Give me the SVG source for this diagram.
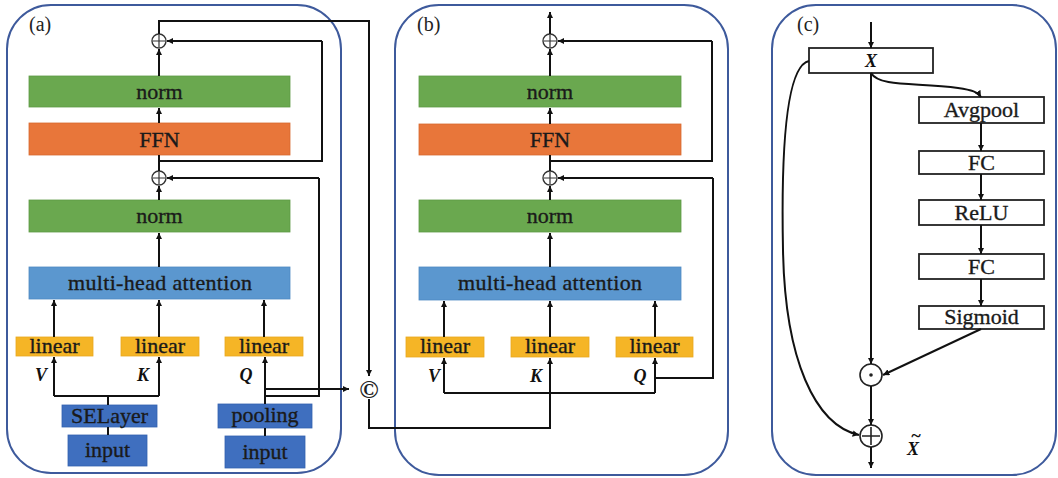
<svg xmlns="http://www.w3.org/2000/svg" width="1058" height="478" viewBox="0 0 1058 478">
<defs>
<marker id="ah" viewBox="0 0 10 10" refX="10" refY="5" markerWidth="3.2" markerHeight="3.2" orient="auto" markerUnits="strokeWidth"><path d="M0,0 L10,5 L0,10 z" fill="#111"/></marker>
<style>
.panel{fill:none;stroke:#3e5a9c;stroke-width:2}
.t{font-size:22px;fill:#1a1a1a;stroke:#1a1a1a;stroke-width:0.35;text-anchor:middle}
.lbl{font-size:20px;fill:#222}
.vk{font-size:18px;font-weight:bold;font-style:italic;fill:#111;text-anchor:middle}
.norm{fill:#6aa84f;stroke:#5e9a45;stroke-width:0.8}
.ffn{fill:#e8763a;stroke:#d86a30;stroke-width:0.8}
.mha{fill:#5b97cf;stroke:#4f8ac2;stroke-width:0.8}
.lin{fill:#f5b526;stroke:#e8a91e;stroke-width:0.8}
.dk{fill:#3f6fbf;stroke:#3462b0;stroke-width:0.8}
.wb{fill:#fff;stroke:#222;stroke-width:1.8}
.c{fill:none;stroke:#111;stroke-width:2}
.a{fill:none;stroke:#111;stroke-width:2;marker-end:url(#ah)}
.op{fill:#fff;stroke:#333;stroke-width:1.4}
</style>
</defs>
<g font-family="'Liberation Serif', 'DejaVu Serif', serif">
<g id="panels">
<rect class="panel" x="7" y="5" width="334" height="468" rx="44"/>
<rect class="panel" x="395" y="5" width="333" height="470" rx="44"/>
<rect class="panel" x="772" y="5" width="284" height="470" rx="44"/>
<text class="lbl" x="29" y="31">(a)</text>
<text class="lbl" x="417" y="31">(b)</text>
<text class="lbl" x="797" y="31">(c)</text>
</g>

<g id="a-plus-top"><circle class="op" cx="159" cy="41" r="7"/><path d="M153,41H165M159,35V47" stroke="#333" stroke-width="1.2"/></g>
<g id="a-norm-top"><rect class="norm" x="29" y="76" width="261" height="31"/><text class="t" x="159.5" y="99">norm</text></g>
<g id="a-ffn"><rect class="ffn" x="29" y="123" width="261" height="32"/><text class="t" x="159.5" y="147">FFN</text></g>
<g id="a-plus-low"><circle class="op" cx="159" cy="178" r="7"/><path d="M153,178H165M159,172V184" stroke="#333" stroke-width="1.2"/></g>
<g id="a-norm-low"><rect class="norm" x="29" y="200" width="261" height="32"/><text class="t" x="159.5" y="223">norm</text></g>
<g id="a-mha"><rect class="mha" x="29" y="267" width="261" height="32"/><text class="t" x="160" y="290" textLength="184" lengthAdjust="spacing">multi-head attention</text></g>
<g id="a-lin-v"><rect class="lin" x="16" y="337" width="77" height="19"/><text class="t" x="54.5" y="353">linear</text></g>
<g id="a-lin-k"><rect class="lin" x="121" y="337" width="78" height="19"/><text class="t" x="160" y="353">linear</text></g>
<g id="a-lin-q"><rect class="lin" x="225" y="337" width="78" height="19"/><text class="t" x="264" y="353">linear</text></g>
<g id="a-labels"><text class="vk" x="41" y="381">V</text><text class="vk" x="143" y="381">K</text><text class="vk" x="246" y="381">Q</text></g>
<g id="a-selayer"><rect class="dk" x="62" y="405" width="95" height="22"/><text class="t" x="109.5" y="423">SELayer</text></g>
<g id="a-input1"><rect class="dk" x="68" y="435" width="79" height="31"/><text class="t" x="107.5" y="457">input</text></g>
<g id="a-pooling"><rect class="dk" x="218" y="404" width="94" height="24"/><text class="t" x="265" y="422">pooling</text></g>
<g id="a-input2"><rect class="dk" x="225" y="436" width="80" height="32"/><text class="t" x="265" y="459">input</text></g>
<g id="concat"><text x="369" y="398" font-size="26" font-weight="bold" text-anchor="middle" fill="#222">©</text></g>

<g id="b-plus-top"><circle class="op" cx="550" cy="41" r="7"/><path d="M544,41H556M550,35V47" stroke="#333" stroke-width="1.2"/></g>
<g id="b-norm-top"><rect class="norm" x="419" y="76" width="262" height="31"/><text class="t" x="550" y="99">norm</text></g>
<g id="b-ffn"><rect class="ffn" x="419" y="124" width="262" height="31"/><text class="t" x="550" y="147">FFN</text></g>
<g id="b-plus-low"><circle class="op" cx="550" cy="178" r="7"/><path d="M544,178H556M550,172V184" stroke="#333" stroke-width="1.2"/></g>
<g id="b-norm-low"><rect class="norm" x="419" y="200" width="262" height="32"/><text class="t" x="550" y="223">norm</text></g>
<g id="b-mha"><rect class="mha" x="419" y="267" width="262" height="33"/><text class="t" x="550" y="290" textLength="184" lengthAdjust="spacing">multi-head attention</text></g>
<g id="b-lin-v"><rect class="lin" x="406" y="337" width="78" height="20"/><text class="t" x="445" y="353">linear</text></g>
<g id="b-lin-k"><rect class="lin" x="511" y="337" width="78" height="20"/><text class="t" x="550" y="353">linear</text></g>
<g id="b-lin-q"><rect class="lin" x="616" y="337" width="77" height="20"/><text class="t" x="654.5" y="353">linear</text></g>
<g id="b-labels"><text class="vk" x="434" y="382">V</text><text class="vk" x="536" y="382">K</text><text class="vk" x="640" y="382">Q</text></g>

<g id="c-x"><rect class="wb" x="809" y="48" width="124" height="25"/><text class="vk" x="871" y="67">X</text></g>
<g id="c-avgpool"><rect class="wb" x="919" y="97" width="125" height="26"/><text class="t" x="981.5" y="117">Avgpool</text></g>
<g id="c-fc1"><rect class="wb" x="919" y="151" width="125" height="23"/><text class="t" x="981.5" y="170">FC</text></g>
<g id="c-relu"><rect class="wb" x="919" y="200" width="125" height="25"/><text class="t" x="981.5" y="220">ReLU</text></g>
<g id="c-fc2"><rect class="wb" x="919" y="254" width="125" height="25"/><text class="t" x="981.5" y="274">FC</text></g>
<g id="c-sigmoid"><rect class="wb" x="919" y="306" width="125" height="23"/><text class="t" x="981.5" y="324">Sigmoid</text></g>
<g id="c-mul"><circle fill="#fff" stroke="#222" stroke-width="1.6" cx="871" cy="375" r="11"/><circle cx="871" cy="375" r="1.8" fill="#222"/></g>
<g id="c-add"><circle fill="#fff" stroke="#222" stroke-width="1.6" cx="871" cy="436" r="11"/><path d="M862,436H880M871,427V445" stroke="#222" stroke-width="1.6"/></g>
<g id="c-xt"><text class="vk" font-size="19"><tspan x="913" y="455">X</tspan><tspan x="916" y="442" font-size="18">~</tspan></text></g>

<g id="connectors">
<path class="a" d="M159,76V49"/>
<path class="a" d="M159,123V108"/>
<path class="c" d="M159,171V155"/>
<path class="c" d="M159,161H322V41"/>
<path class="a" d="M322,41H167"/>
<path class="a" d="M159,200V186"/>
<path class="a" d="M159,267V233"/>
<path class="a" d="M54,337V300"/>
<path class="a" d="M159,337V300"/>
<path class="a" d="M264,337V300"/>
<path class="c" d="M108,435V427"/>
<path class="c" d="M108,405V396"/>
<path class="c" d="M54,396H159"/>
<path class="a" d="M54,396V357"/>
<path class="a" d="M159,396V357"/>
<path class="c" d="M265,436V428"/>
<path class="a" d="M265,404V357"/>
<path class="a" d="M265,389H349"/>
<path class="c" d="M265,396H319V178"/>
<path class="a" d="M319,178H167"/>
<path class="c" d="M159,34V21H369V300"/>
<path class="a" d="M369,300V376"/>
<path class="c" d="M369,399V428H550V393"/>
<path class="a" d="M550,34V12"/>
<path class="a" d="M550,76V49"/>
<path class="a" d="M550,124V108"/>
<path class="c" d="M550,171V155"/>
<path class="c" d="M550,161H712V41"/>
<path class="a" d="M712,41H558"/>
<path class="a" d="M550,200V186"/>
<path class="a" d="M550,267V233"/>
<path class="a" d="M444,337V301"/>
<path class="a" d="M550,337V301"/>
<path class="a" d="M655,337V301"/>
<path class="c" d="M444,393H655"/>
<path class="a" d="M444,393V358"/>
<path class="a" d="M550,393V358"/>
<path class="a" d="M655,393V358"/>
<path class="c" d="M656,378H713V178"/>
<path class="a" d="M713,178H558"/>
<path class="a" d="M871,22V48"/>
<path class="c" d="M871,73V300"/>
<path class="a" d="M871,300V364"/>
<path class="a" d="M871,73C880,88 920,82 958,88C972,90 978,92 981,97"/>
<path class="a" d="M981,123V151"/>
<path class="a" d="M981,174V200"/>
<path class="a" d="M981,225V254"/>
<path class="a" d="M981,279V306"/>
<path class="a" d="M981,329L883,375"/>
<path class="a" d="M871,386V425"/>
<path class="a" d="M871,447V468"/>
<path class="a" d="M809,61C786,66 781,150 783,250C785,360 815,425 859,435"/>
</g>
</g>
</svg>
